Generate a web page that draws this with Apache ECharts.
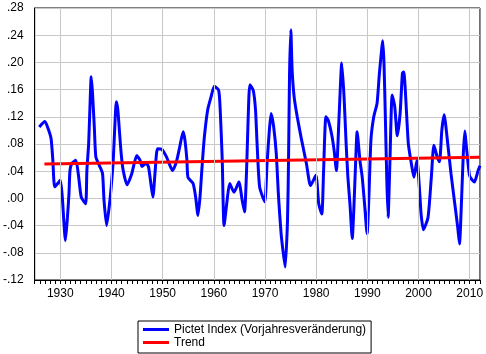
<!DOCTYPE html>
<html>
<head>
    <meta charset="utf-8">
    <title>Pictet Index</title>
    <script src="https://cdn.jsdelivr.net/npm/echarts@6/dist/echarts.min.js"></script>
    <style>
        html, body {margin: 0; padding: 0; background: #fff;}
    </style>
</head>
<body>
<div id="main" style="width: 486px;height:354px;"></div>
<script>
    // Jahr (dezimal) und Vorjahresveränderung
    var indexYears = [
        1925.9, 1927.0, 1927.6, 1928.2, 1928.55, 1928.9, 1929.5, 1930.0, 1930.4, 1930.65,
        1931.0, 1931.4, 1931.7, 1931.9, 1932.3, 1933.05, 1933.6, 1934.1, 1934.95, 1935.2,
        1935.55, 1935.8, 1936.05, 1936.3, 1936.65, 1936.95, 1937.6, 1938.25, 1938.55, 1939.05,
        1939.55, 1939.95, 1940.35, 1940.65, 1940.95, 1941.25, 1941.55, 1941.9, 1942.3, 1943.05,
        1943.95, 1944.95, 1945.6, 1945.95, 1946.8, 1947.25, 1947.7, 1948.1, 1948.55, 1949.0,
        1949.85, 1950.75, 1951.4, 1951.95, 1952.7, 1953.35, 1954.0, 1954.35, 1954.75, 1954.95,
        1955.95, 1956.45, 1956.9, 1957.3, 1957.7, 1958.15, 1958.8, 1959.45, 1960.1, 1960.95,
        1961.25, 1961.65, 1962.0, 1962.6, 1963.1, 1963.95, 1964.9, 1965.55, 1966.0, 1966.4,
        1966.7, 1967.05, 1967.7, 1968.15, 1968.45, 1968.95, 1969.95, 1970.4, 1970.85, 1971.2,
        1971.7, 1972.2, 1972.65, 1973.15, 1973.6, 1973.95, 1974.4, 1974.6, 1974.8, 1975.05,
        1975.3, 1975.7, 1976.3, 1977.15, 1978.1, 1978.9, 1979.95, 1980.5, 1981.1, 1981.45,
        1981.9, 1982.35, 1983.0, 1983.5, 1983.95, 1984.5, 1985.0, 1985.45, 1985.85, 1986.2,
        1986.6, 1987.05, 1987.4, 1987.7, 1988.0, 1988.55, 1989.0, 1989.45, 1989.95, 1990.3,
        1990.7, 1991.25, 1991.9, 1992.35, 1992.85, 1993.0, 1993.25, 1993.5, 1993.8, 1994.05,
        1994.4, 1994.85, 1995.35, 1995.85, 1996.4, 1996.85, 1997.1, 1998.0, 1998.6, 1999.1,
        1999.7, 2000.2, 2000.5, 2000.95, 2001.85, 2002.5, 2003.0, 2003.65, 2004.1, 2004.55,
        2005.0, 2005.7, 2006.35, 2007.0, 2007.65, 2008.0, 2008.4, 2008.75, 2009.05, 2009.35,
        2009.9, 2010.1, 2010.9, 2011.6, 2012.0
    ];
    var indexValues = [
        0.105, 0.113, 0.103, 0.088, 0.056, 0.017, 0.022, 0.027, 0.002, -0.028,
        -0.062, -0.028, 0.007, 0.041, 0.052, 0.056, 0.031, 0.002, -0.008, 0.041,
        0.081, 0.135, 0.179, 0.155, 0.105, 0.061, 0.049, 0.037, -0.003, -0.040,
        -0.013, 0.017, 0.056, 0.105, 0.142, 0.130, 0.100, 0.066, 0.041, 0.020,
        0.036, 0.063, 0.056, 0.047, 0.052, 0.046, 0.022, 0.002, 0.041, 0.073,
        0.072, 0.061, 0.049, 0.041, 0.054, 0.076, 0.098, 0.086, 0.056, 0.031,
        0.022, 0.002, -0.025, 0.002, 0.046, 0.090, 0.130, 0.149, 0.165, 0.159,
        0.130, 0.056, -0.040, -0.003, 0.022, 0.009, 0.024, -0.003, -0.020, 0.041,
        0.115, 0.167, 0.159, 0.130, 0.081, 0.017, -0.005, 0.051, 0.100, 0.125,
        0.105, 0.066, 0.002, -0.052, -0.082, -0.101, -0.032, 0.056, 0.184, 0.248,
        0.189, 0.149, 0.120, 0.086, 0.051, 0.019, 0.034, -0.008, -0.023, 0.041,
        0.120, 0.115, 0.095, 0.071, 0.041, 0.125, 0.199, 0.149, 0.081, 0.031,
        -0.008, -0.059, -0.008, 0.051, 0.098, 0.056, 0.031, -0.008, -0.052, 0.002,
        0.086, 0.120, 0.140, 0.184, 0.223, 0.232, 0.199, 0.125, 0.027, -0.028,
        0.051, 0.152, 0.135, 0.092, 0.125, 0.184, 0.186, 0.081, 0.051, 0.031,
        0.056, 0.012, -0.023, -0.046, -0.028, 0.031, 0.078, 0.061, 0.054, 0.100,
        0.123, 0.081, 0.036, -0.003, -0.042, -0.067, -0.003, 0.066, 0.099, 0.076,
        0.036, 0.031, 0.024, 0.040, 0.048
    ];
    var trendYears = [1926.9, 2012.0];
    var trendValues = [0.0505, 0.0605];
    var decadeYears = [1930, 1940, 1950, 1960, 1970, 1980, 1990, 2000, 2010];
    var seriesNames = ['Pictet Index (Vorjahresveränderung)', 'Trend'];

    function pairs(xs, ys) {
        var out = [];
        for (var i = 0; i < xs.length; i++) {
            out.push([xs[i], ys[i]]);
        }
        return out;
    }

    var font = 'Liberation Sans, Arial, sans-serif';
    var myChart = echarts.init(document.getElementById('main'));

    var chartOption = {
        animation: false,
        grid: {
            left: 32, right: 4, top: 8, bottom: 74,
            show: true, borderColor: '#000', borderWidth: 1
        },
        legend: {
            orient: 'vertical',
            left: 138, top: 321,
            padding: [2, 5, 4, 5],
            itemGap: 0,
            itemWidth: 26,
            itemHeight: 3,
            icon: 'rect',
            borderColor: '#000',
            borderWidth: 1,
            borderRadius: 0,
            textStyle: {color: '#000', fontFamily: font, fontSize: 12, lineHeight: 13},
            data: seriesNames
        },
        xAxis: [{
            type: 'value', min: 1925, max: 2012, interval: 1,
            axisLine: {onZero: false, lineStyle: {color: '#000', width: 1}},
            axisTick: {show: true, length: 4, lineStyle: {color: '#000'}},
            axisLabel: {show: false},
            splitLine: {show: false}
        }, {
            type: 'value', min: 1925, max: 2012, interval: 5, position: 'bottom',
            axisLine: {show: false, onZero: false},
            axisTick: {show: false},
            axisLabel: {
                color: '#000', fontFamily: font, fontSize: 12, margin: 8,
                formatter: function (v) { return v % 10 === 0 ? String(v) : ''; }
            },
            splitLine: {show: false}
        }],
        yAxis: {
            type: 'value', min: -0.12, max: 0.28, interval: 0.04,
            axisLine: {show: true, lineStyle: {color: '#000'}},
            axisTick: {show: false},
            axisLabel: {
                color: '#000', fontFamily: font, fontSize: 12, margin: 11,
                formatter: function (v) {
                    var s = Math.abs(v).toFixed(2).replace(/^0/, '');
                    return (v < -1e-9 ? '-' : '') + s;
                }
            },
            splitLine: {show: true, lineStyle: {color: '#c8c8c8', width: 1}}
        },
        series: [{
            name: 'grid',
            type: 'line',
            xAxisIndex: 0,
            data: [],
            z: 1,
            silent: true,
            markLine: {
                silent: true,
                symbol: 'none',
                label: {show: false},
                lineStyle: {color: '#c8c8c8', width: 1, type: 'solid'},
                data: decadeYears.map(function (y) { return {xAxis: y}; })
            }
        }, {
            name: seriesNames[0],
            type: 'line',
            xAxisIndex: 0,
            data: pairs(indexYears, indexValues),
            symbol: 'none',
            smooth: 0.2,
            lineStyle: {color: '#0000ff', width: 3},
            itemStyle: {color: '#0000ff'},
            z: 3
        }, {
            name: seriesNames[1],
            type: 'line',
            xAxisIndex: 0,
            data: pairs(trendYears, trendValues),
            symbol: 'none',
            lineStyle: {color: '#ff0000', width: 3},
            itemStyle: {color: '#ff0000'},
            z: 4
        }]
    };
    myChart.setOption(chartOption);
</script>
</body>
</html>
